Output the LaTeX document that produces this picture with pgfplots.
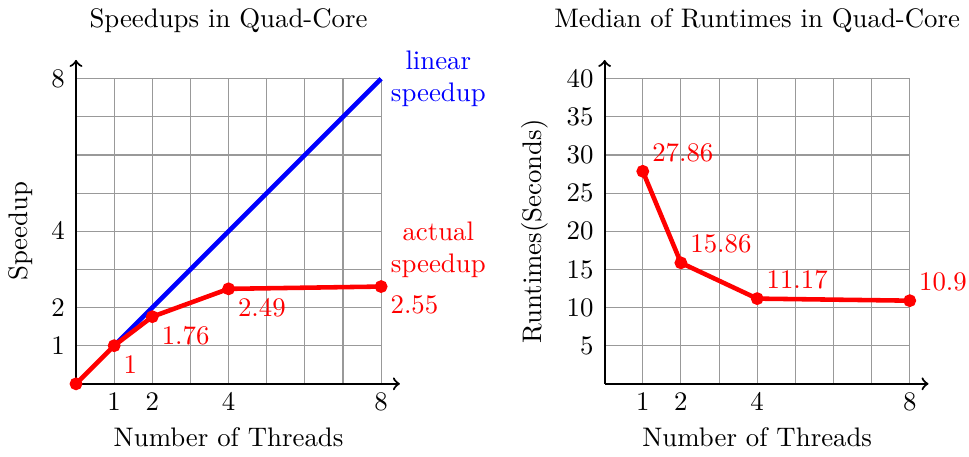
\documentclass[border=0pt]{standalone}
\usepackage{pgfplots}
\pgfplotsset{compat=1.18}
\begin{document}
\begin{tikzpicture}
\pgfplotsset{
  quad/.style={
    width=4cm, height=4cm, scale only axis,
    axis lines=left,
    axis line style={thick, ->, shorten >=-7pt},
    xmin=0, xmax=8,
    xtick={1,2,4,8}, minor xtick={3,5,6,7},
    grid=both,
    major grid style={gray!80, line width=0.4pt},
    minor grid style={gray!80, line width=0.4pt},
    tick style={draw=none},
    xticklabel style={yshift=2pt},
    yticklabel style={xshift=1.5pt},
    xlabel={Number of Threads},
    xlabel style={yshift=0.5pt},
    title style={yshift=7.5pt},
    clip=false,
  },
}
% left: speedup
\begin{axis}[quad,
  title={Speedups in Quad-Core},
  ymin=0, ymax=8,
  ytick={1,2,4,8}, minor ytick={3,5,6,7},
  ylabel={Speedup},
]
\addplot[blue, line width=1.7pt] coordinates {(1,1) (8,8)};
\addplot[red, line width=1.7pt, mark=*, mark size=1.5pt] coordinates {
  (0,0) (1,1) (2,1.76) (4,2.49) (8,2.55)
};
\node[below right, red] at (axis cs:1,1) {1};
\node[below right, red] at (axis cs:2,1.76) {1.76};
\node[below right, red] at (axis cs:4,2.49) {2.49};
\node[below right, red] at (axis cs:8,2.55) {2.55};
\node[blue, align=center] at (axis cs:9.5,8) {linear\\speedup};
\node[red, align=center] at (axis cs:9.5,3.52) {actual\\speedup};
\end{axis}

% right: runtimes
\begin{axis}[quad, xshift=6.93cm,
  title={Median of Runtimes in Quad-Core},
  ymin=0, ymax=40,
  ytick={5,10,...,40},
  ylabel={Runtimes(Seconds)},
]
\addplot[red, line width=1.7pt, mark=*, mark size=1.5pt] coordinates {
  (1,27.86) (2,15.86) (4,11.17) (8,10.9)
};
\node[above right, red] at (axis cs:1,27.86) {27.86};
\node[above right, red] at (axis cs:2,15.86) {15.86};
\node[above right, red] at (axis cs:4,11.17) {11.17};
\node[above right, red, inner xsep=0pt, xshift=3.3pt] at (axis cs:8,10.9) {10.9};
\end{axis}
\end{tikzpicture}
\end{document}
